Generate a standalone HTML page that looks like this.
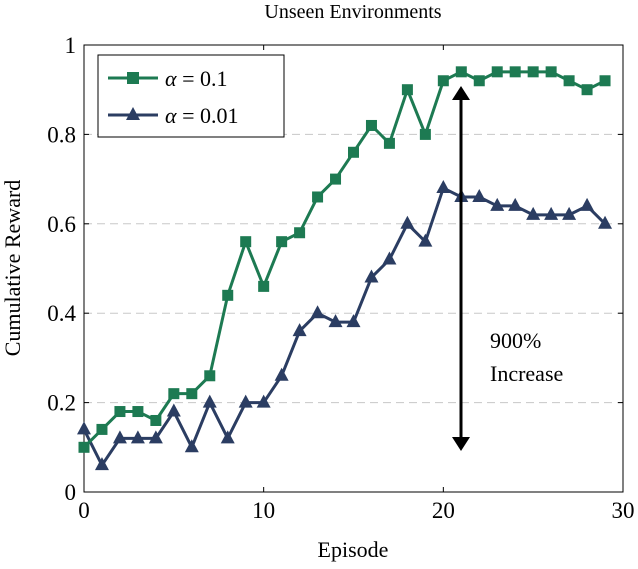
<!DOCTYPE html>
<html><head><meta charset="utf-8"><style>
body{margin:0;background:#fff}
svg, svg text{font-family:"Liberation Serif","DejaVu Serif",serif !important;fill:#000}
</style></head><body>
<svg id="chart" width="638" height="564" font-family="Liberation Serif, serif" xmlns="http://www.w3.org/2000/svg">
<text x="353" y="18" font-size="20" text-anchor="middle">Unseen Environments</text>
<g id="grid"></g><g id="axes"></g><g id="series"></g>
<text x="353" y="557" font-size="22" text-anchor="middle">Episode</text>
<text transform="translate(20,268) rotate(-90)" font-size="22" text-anchor="middle">Cumulative Reward</text>
<g>
<line x1="461" y1="96" x2="461" y2="441" stroke="#000" stroke-width="3"/>
<path d="M452,100 L461,86 L470,100 Z" fill="#000"/>
<path d="M452,437 L461,451 L470,437 Z" fill="#000"/>
<text x="490" y="348" font-size="22">900%</text>
<text x="490" y="381" font-size="22">Increase</text>
</g>
<g>
<rect x="98" y="55" width="186" height="82" fill="#fff" stroke="#000" stroke-width="1"/>
<g><line x1="108" y1="78" x2="158" y2="78" stroke="#1d7a52" stroke-width="3"/><rect x="127" y="72" width="12" height="12" fill="#1d7a52"/><text x="165" y="86" font-size="22"><tspan font-style="italic">α</tspan> = 0.1</text></g>
<g><line x1="108" y1="115" x2="158" y2="115" stroke="#2b3d62" stroke-width="3"/><path d="M133,107 L140,120 L126,120 Z" fill="#2b3d62"/><text x="165" y="123" font-size="22"><tspan font-style="italic">α</tspan> = 0.01</text></g>
</g>
</svg>
<script>
const episodes=[0,1,2,3,4,5,6,7,8,9,10,11,12,13,14,15,16,17,18,19,20,21,22,23,24,25,26,27,28,29];
const alpha01=[0.10,0.14,0.18,0.18,0.16,0.22,0.22,0.26,0.44,0.56,0.46,0.56,0.58,0.66,0.70,0.76,0.82,0.78,0.90,0.80,0.92,0.94,0.92,0.94,0.94,0.94,0.94,0.92,0.90,0.92];
const alpha001=[0.14,0.06,0.12,0.12,0.12,0.18,0.10,0.20,0.12,0.20,0.20,0.26,0.36,0.40,0.38,0.38,0.48,0.52,0.60,0.56,0.68,0.66,0.66,0.64,0.64,0.62,0.62,0.62,0.64,0.60];
const xTicks=[0,10,20,30];
const yTicks=[0,0.2,0.4,0.6,0.8,1];
const yTickLabels=["0","0.2","0.4","0.6","0.8","1"];
const NS="http://www.w3.org/2000/svg";
const X0=84,X1=623,Y0=492,Y1=45;
const sx=v=>X0+(v-0)/30*(X1-X0);
const sy=v=>Y0-(v-0)/1*(Y0-Y1);
function mk(t,a,p){const e=document.createElementNS(NS,t);for(const k in a)e.setAttribute(k,a[k]);p.appendChild(e);return e;}
const grid=document.getElementById('grid'),axes=document.getElementById('axes'),ser=document.getElementById('series');
yTicks.forEach((v,i)=>{
 if(v>0&&v<1){const g=mk('line',{x1:X0,x2:X1,y1:sy(v),y2:sy(v),stroke:'#c8c8c8','stroke-dasharray':'8,5'},grid);
 
 }
 mk('line',{x1:X0,x2:X0+5,y1:sy(v),y2:sy(v),stroke:'#000'},axes);
 mk('line',{x1:X1,x2:X1-5,y1:sy(v),y2:sy(v),stroke:'#000'},axes);
 const t=mk('text',{x:X0-8,y:sy(v)+8,'font-size':23,'text-anchor':'end'},axes);t.textContent=yTickLabels[i];
 
 
});
xTicks.forEach(v=>{
 mk('line',{x1:sx(v),x2:sx(v),y1:Y0,y2:Y0-5,stroke:'#000'},axes);
 mk('line',{x1:sx(v),x2:sx(v),y1:Y1,y2:Y1+5,stroke:'#000'},axes);
 const t=mk('text',{x:sx(v),y:Y0+26,'font-size':23,'text-anchor':'middle'},axes);t.textContent=v;
 
 
});
const fr=mk('rect',{x:X0,y:Y1,width:X1-X0,height:Y0-Y1,fill:'none',stroke:'#000'},axes);


function series(vals,col,marker,name){
 const g=mk('g',{},ser);
 
 
 mk('polyline',{points:episodes.map((e,i)=>sx(e)+','+sy(vals[i])).join(' '),fill:'none',stroke:col,'stroke-width':3,'stroke-linejoin':'round'},g);
 episodes.forEach((e,i)=>{const x=sx(e),y=sy(vals[i]);let m;
  if(marker==='sq')m=mk('rect',{x:x-5.5,y:y-5.5,width:11,height:11,fill:col},g);
  else m=mk('path',{d:`M${x},${y-8} L${x+7},${y+5} L${x-7},${y+5} Z`,fill:col},g);
  
  
 });
}
series(alpha001,'#2b3d62','tri','series-alpha-0.01');
series(alpha01,'#1d7a52','sq','series-alpha-0.1');
</script>
</body></html>
